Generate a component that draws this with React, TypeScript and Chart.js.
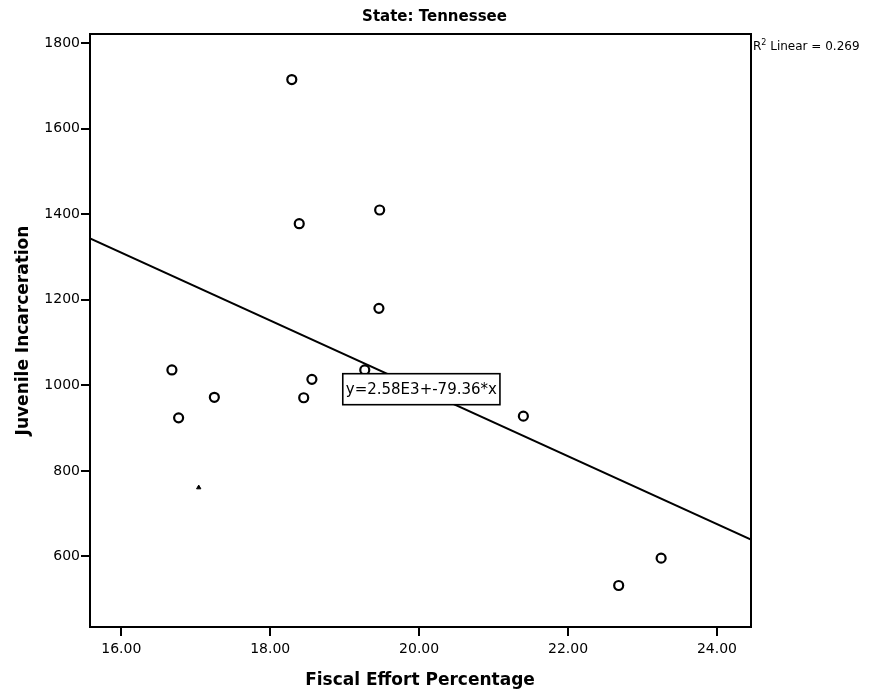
import React, { useEffect, useRef } from "react";
import { Chart, registerables } from "chart.js";

Chart.register(...registerables);

const fiscalEffort = [18.29, 19.47, 18.39, 19.46, 19.27, 18.56, 18.45, 21.4, 16.68, 17.25, 16.77, 22.68, 23.25];
const juvenileIncarceration = [1715, 1410, 1378, 1180, 1036, 1014, 971, 928, 1036, 972, 924, 532, 596];
const strayMarkX = [17.04];
const strayMarkY = [761];
const xTicks = [16, 18, 20, 22, 24];
const yTicks = [600, 800, 1000, 1200, 1400, 1600, 1800];
const X_MIN = 15.58;
const X_MAX = 24.457;
const Y_MIN = 435;
const Y_MAX = 1821.5;
const FIT_INTERCEPT = 2580;
const FIT_SLOPE = -79.36;
const R2_TEXT = "0.269";
const TITLE = "State: Tennessee";
const X_TITLE = "Fiscal Effort Percentage";
const Y_TITLE = "Juvenile Incarceration";
const EQUATION = "y=2.58E3+-79.36*x";
const EQ_ANCHOR = { x: 20.03, y: 991 };

const FONT = "'DejaVu Sans', 'Liberation Sans', Arial, sans-serif";

const overlayPlugin = {
  id: "overlay",
  afterDatasetsDraw(chart: any) {
    const { ctx, chartArea, scales } = chart;
    ctx.save();
    // frame
    ctx.strokeStyle = "#000";
    ctx.lineWidth = 2;
    ctx.strokeRect(chartArea.left, chartArea.top, chartArea.right - chartArea.left, chartArea.bottom - chartArea.top);

    // equation box
    const cx = scales.x.getPixelForValue(EQ_ANCHOR.x);
    const cy = scales.y.getPixelForValue(EQ_ANCHOR.y);
    ctx.font = `15px ${FONT}`;
    const w = ctx.measureText(EQUATION).width;
    const bw = Math.max(w + 6, 155);
    const bh = 31;
    ctx.fillStyle = "#fff";
    ctx.fillRect(cx - bw / 2, cy - bh / 2, bw, bh);
    ctx.lineWidth = 1.6;
    ctx.strokeRect(cx - bw / 2, cy - bh / 2, bw, bh);
    ctx.fillStyle = "#000";
    ctx.textAlign = "center";
    ctx.textBaseline = "middle";
    ctx.fillText(EQUATION, cx, cy + 1);

    // title
    ctx.font = `bold 15px ${FONT}`;
    ctx.fillText(TITLE, 434.5, 17.5);

    // R2 label
    ctx.textAlign = "left";
    ctx.font = `12px ${FONT}`;
    let x = chartArea.right + 2;
    const y = 47;
    ctx.fillText("R", x, y);
    x += ctx.measureText("R").width;
    ctx.font = `8px ${FONT}`;
    ctx.fillText("2", x, y - 4);
    x += ctx.measureText("2").width;
    ctx.font = `12px ${FONT}`;
    ctx.fillText(" Linear = " + R2_TEXT, x, y);

    // axis titles
    ctx.textAlign = "center";
    ctx.font = `bold 17px ${FONT}`;
    ctx.fillText(X_TITLE, 420, 681);
    ctx.save();
    ctx.translate(24, (chartArea.top + chartArea.bottom) / 2);
    ctx.rotate(-Math.PI / 2);
    ctx.fillText(Y_TITLE, 0, 0);
    ctx.restore();

    ctx.restore();
  },
};

export default function App() {
  const ref = useRef<HTMLCanvasElement>(null);
  useEffect(() => {
    if (!ref.current) return;
    const points = fiscalEffort.map((v, i) => ({ x: v, y: juvenileIncarceration[i] }));
    const stray = strayMarkX.map((v, i) => ({ x: v, y: strayMarkY[i] }));
    const fit = [X_MIN, X_MAX].map((v) => ({ x: v, y: FIT_INTERCEPT + FIT_SLOPE * v }));
    const chart = new Chart(ref.current, {
      type: "scatter",
      data: {
        datasets: [
          {
            type: "line",
            data: fit,
            borderColor: "#000",
            borderWidth: 2,
            pointRadius: 0,
            fill: false,
          } as any,
          {
            data: points,
            pointRadius: 4.5,
            pointBorderWidth: 2.2,
            pointBorderColor: "#000",
            pointBackgroundColor: "#fff",
          },
          {
            data: stray,
            pointStyle: "triangle",
            pointRadius: 2.5,
            pointBorderWidth: 1,
            pointBorderColor: "#000",
            pointBackgroundColor: "#000",
          },
        ],
      },
      options: {
        animation: false,
        responsive: false,
        maintainAspectRatio: false,
        layout: { padding: { top: 34, right: 124, left: 0, bottom: 0 } },
        plugins: { legend: { display: false }, title: { display: false }, tooltip: { enabled: false } },
        scales: {
          x: {
            type: "linear",
            min: X_MIN,
            max: X_MAX,
            afterFit: (s: any) => {
              s.height = 70;
            },
            afterBuildTicks: (s: any) => {
              s.ticks = xTicks.map((v) => ({ value: v }));
            },
            ticks: {
              color: "#000",
              font: { family: FONT, size: 14 },
              padding: 5,
              maxRotation: 0,
              callback: (v: any) => Number(v).toFixed(2),
            },
            grid: { drawOnChartArea: false, drawTicks: true, tickLength: 9, color: "#000", lineWidth: 2 },
            border: { display: true, color: "#000", width: 2 },
          },
          y: {
            type: "linear",
            min: Y_MIN,
            max: Y_MAX,
            afterFit: (s: any) => {
              s.width = 90;
            },
            afterBuildTicks: (s: any) => {
              s.ticks = yTicks.map((v) => ({ value: v }));
            },
            ticks: {
              color: "#000",
              font: { family: FONT, size: 14 },
              padding: 1,
              callback: (v: any) => String(v),
            },
            grid: { drawOnChartArea: false, drawTicks: true, tickLength: 9, color: "#000", lineWidth: 2 },
            border: { display: true, color: "#000", width: 2 },
          },
        },
      },
      plugins: [overlayPlugin],
    });
    return () => chart.destroy();
  }, []);
  return (
    <div style={{ position: "absolute", left: 0, top: 0, width: 875, height: 697, background: "#fff" }}>
      <canvas ref={ref} width={875} height={697} style={{ display: "block", width: 875, height: 697 }} />
    </div>
  );
}
